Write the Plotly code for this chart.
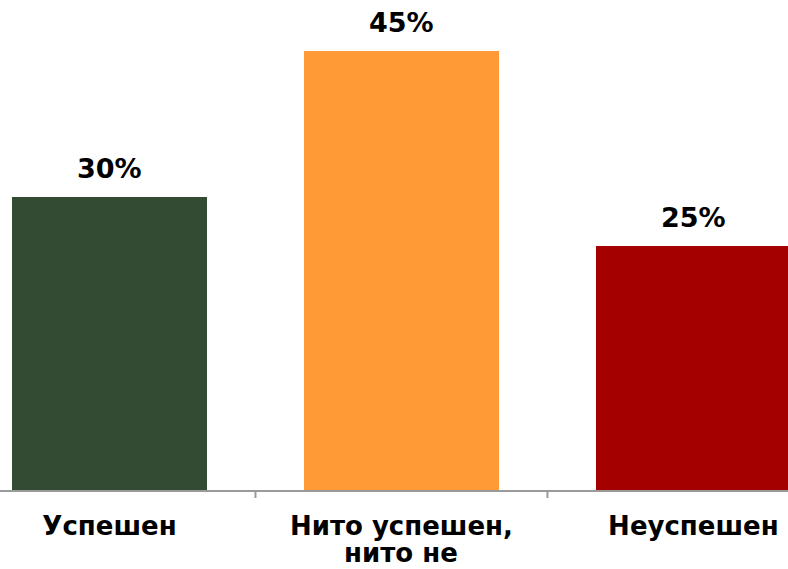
import plotly.graph_objects as go

categories = ["Успешен", "Нито успешен,\nнито не", "Неуспешен"]
values = [30, 45, 25]
value_labels = ["30%", "45%", "25%"]
colors = ["#334B32", "#FF9A37", "#A40000"]

FONT = "DejaVu Sans"
PLOT_H = 490

fig = go.Figure()
fig.add_trace(go.Bar(
    x=list(range(len(categories))),
    y=values,
    marker=dict(color=colors, line=dict(width=0)),
    width=0.668,
    hoverinfo="skip",
))

for i, (v, lab) in enumerate(zip(values, value_labels)):
    fig.add_annotation(
        x=i, y=v, text=lab, showarrow=False,
        xanchor="center", yanchor="bottom", yshift=11,
        font=dict(family=FONT, size=27, color="#000000", weight="bold"),
    )

# first line of each category as tick text, further lines as annotations (tighter spacing)
first_lines = [c.split("\n")[0] for c in categories]
for i, c in enumerate(categories):
    for k, line in enumerate(c.split("\n")[1:], start=1):
        fig.add_annotation(
            x=i, xref="x", yref="paper", y=-(569 - PLOT_H + 24 * (k - 1)) / PLOT_H,
            text=line, showarrow=False, xanchor="center", yanchor="bottom",
            borderpad=0,
            font=dict(family=FONT, size=26, color="#000000", weight="bold"),
        )

fig.update_layout(
    width=788, height=569,
    margin=dict(l=0, r=0, t=0, b=79, autoexpand=False),
    paper_bgcolor="white", plot_bgcolor="white",
    showlegend=False,
    bargap=0,
    xaxis=dict(
        range=[-0.375, 2.324],
        tickmode="array",
        tickvals=list(range(len(categories))),
        ticktext=first_lines,
        showline=True, linecolor="#9A9A9A", linewidth=2,
        ticks="", showgrid=False, zeroline=False,
        automargin=False,
        ticklabelstandoff=12,
        tickfont=dict(family=FONT, size=26, color="#000000", weight="bold"),
    ),
    yaxis=dict(
        range=[0, 50.2],
        visible=False,
        showgrid=False, zeroline=False,
    ),
)

# tick marks at category boundaries
for b in [0.5, 1.5]:
    fig.add_shape(type="line", xref="x", yref="paper",
                  x0=b, x1=b, y0=0, y1=-8 / PLOT_H,
                  line=dict(color="#9A9A9A", width=2))

fig.write_html("out.html", config={"displayModeBar": False},
               post_script="document.body.style.margin='0px';")
